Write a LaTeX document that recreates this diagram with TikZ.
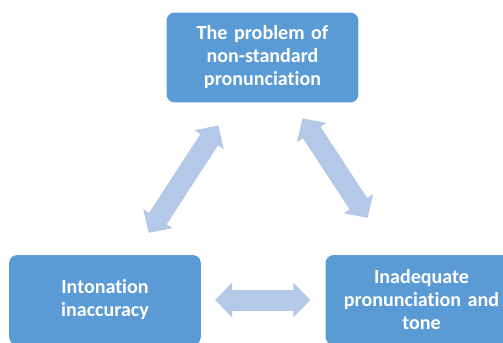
\documentclass[tikz,border=0pt]{standalone}
\usepackage{fontspec}
\setmainfont{Carlito}[Ligatures=NoCommon]
\usetikzlibrary{arrows.meta}

\definecolor{boxblue}{HTML}{5B9BD5}
\definecolor{linkblue}{HTML}{B4C8E7}

\begin{document}
\begin{tikzpicture}[x=0.02cm,y=-0.02cm,
                    issue node/.style={rectangle,rounded corners=0.16cm,fill=boxblue,
                      minimum width=3.78cm,minimum height=1.8cm,text width=3.6cm,align=center,
                      text=white,font=\fontsize{11.4}{13.1}\selectfont\bfseries},
                    link/.style={draw=linkblue,line width=0.42cm,
                      {Triangle[length=0.34cm,width=0.68cm]}-{Triangle[length=0.34cm,width=0.68cm]}}]

  \useasboundingbox (0,0) rectangle (503,342);

  \node[issue node] (top) at (262.5,57.5) {The problem of\\non-standard\\pronunciation};
  \node[issue node] (left) at (105,300) {Intonation\\inaccuracy};
  \node[issue node] (right) at (421.5,300) {Inadequate\\pronunciation and\\tone};

  \path (left) edge[link,shorten <=0.52cm,shorten >=0.54cm] (top)
        (top) edge[link,shorten <=0.37cm,shorten >=0.88cm] (right)
        (left) edge[link,shorten <=0.28cm,shorten >=0.30cm] (right);
\end{tikzpicture}
\end{document}
